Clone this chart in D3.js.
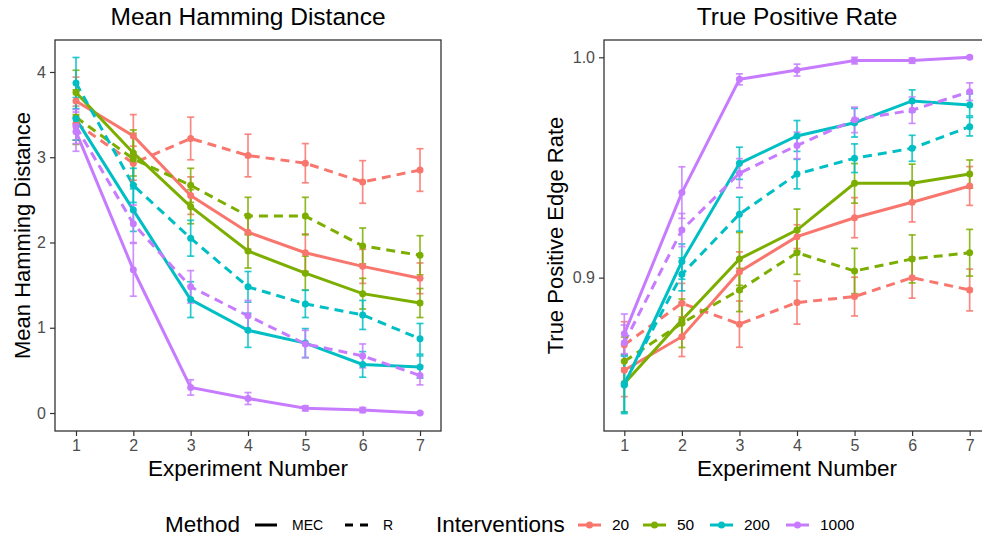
<!DOCTYPE html>
<html>
<head>
<meta charset="utf-8">
<script src="https://cdn.jsdelivr.net/npm/d3@7"></script>
<style>
  body { margin: 0; background: #fff; }
  svg { font-family: "Liberation Sans", Arial, sans-serif; display: block; }
  .tick text { fill: #4d4d4d; font-size: 16px; }
  .tick line { stroke: #333; stroke-width: 1.2; }
  .domain { display: none; }
</style>
</head>
<body>
<svg width="982" height="537"></svg>
<script>
const experiments = [1, 2, 3, 4, 5, 6, 7]
const interventions = ["20", "50", "200", "1000"]
const methods = ["MEC", "R"]
const colors = ["#F8766D", "#7CAE00", "#00BFC4", "#C77CFF"]

// Mean Hamming distance, MEC (solid) / R (dashed), with error half widths
const hamMEC20 = [3.66, 3.25, 2.55, 2.12, 1.88, 1.72, 1.58]
const hamMEC20Err = [0.28, 0.25, 0.22, 0.2, 0.22, 0.2, 0.18]
const hamR20 = [3.40, 2.93, 3.22, 3.02, 2.93, 2.71, 2.85]
const hamR20Err = [0.2, 0.2, 0.25, 0.25, 0.23, 0.25, 0.25]
const hamMEC50 = [3.76, 3.05, 2.42, 1.90, 1.64, 1.40, 1.29]
const hamMEC50Err = [0.26, 0.27, 0.2, 0.2, 0.2, 0.18, 0.17]
const hamR50 = [3.47, 2.98, 2.67, 2.31, 2.31, 1.96, 1.85]
const hamR50Err = [0.32, 0.3, 0.2, 0.22, 0.22, 0.21, 0.23]
const hamMEC200 = [3.45, 2.38, 1.33, 0.97, 0.82, 0.57, 0.54]
const hamMEC200Err = [0.25, 0.25, 0.21, 0.2, 0.17, 0.15, 0.13]
const hamR200 = [3.87, 2.67, 2.05, 1.48, 1.28, 1.15, 0.87]
const hamR200Err = [0.3, 0.2, 0.21, 0.18, 0.16, 0.17, 0.18]
const hamMEC1000 = [3.30, 1.68, 0.30, 0.17, 0.055, 0.035, 0.0]
const hamMEC1000Err = [0.23, 0.31, 0.09, 0.07, 0.03, 0.03, 0.01]
const hamR1000 = [3.36, 2.22, 1.48, 1.14, 0.81, 0.67, 0.44]
const hamR1000Err = [0.2, 0.22, 0.19, 0.18, 0.16, 0.14, 0.11]

// True positive edge rate
const tprMEC20 = [0.858, 0.8732, 0.9027, 0.9186, 0.9272, 0.9342, 0.9416]
const tprMEC20Err = [0.012, 0.009, 0.009, 0.0054, 0.0091, 0.0089, 0.0088]
const tprR20 = [0.8695, 0.8884, 0.8789, 0.8887, 0.8914, 0.900, 0.8944]
const tprR20Err = [0.0105, 0.009, 0.0105, 0.0098, 0.0088, 0.0093, 0.0095]
const tprMEC50 = [0.852, 0.8808, 0.9085, 0.9216, 0.9428, 0.9428, 0.947]
const tprMEC50Err = [0.013, 0.008, 0.012, 0.0095, 0.009, 0.0087, 0.0064]
const tprR50 = [0.862, 0.8793, 0.8944, 0.9113, 0.903, 0.9085, 0.9113]
const tprR50Err = [0.011, 0.011, 0.0098, 0.0098, 0.0103, 0.0109, 0.0106]
const tprMEC200 = [0.8513, 0.9073, 0.9519, 0.9643, 0.9703, 0.9802, 0.9784]
const tprMEC200Err = [0.013, 0.008, 0.0073, 0.007, 0.0065, 0.005, 0.005]
const tprR200 = [0.852, 0.9015, 0.9288, 0.947, 0.9542, 0.9587, 0.9685]
const tprR200Err = [0.013, 0.0075, 0.0077, 0.0067, 0.0065, 0.0059, 0.0042]
const tprMEC1000 = [0.8745, 0.9386, 0.990, 0.9942, 0.9985, 0.9985, 1.0]
const tprMEC1000Err = [0.009, 0.0117, 0.0025, 0.0027, 0.0015, 0.0012, 0.0005]
const tprR1000 = [0.8705, 0.9216, 0.9474, 0.960, 0.9716, 0.976, 0.9844]
const tprR1000Err = [0.008, 0.0075, 0.0066, 0.006, 0.0058, 0.006, 0.004]

const hamTicks = [0, 1, 2, 3, 4]
const tprTicks = [0.9, 1.0]

const hamSeries = [
  [hamMEC20, hamMEC20Err, hamR20, hamR20Err],
  [hamMEC50, hamMEC50Err, hamR50, hamR50Err],
  [hamMEC200, hamMEC200Err, hamR200, hamR200Err],
  [hamMEC1000, hamMEC1000Err, hamR1000, hamR1000Err]
]
const tprSeries = [
  [tprMEC20, tprMEC20Err, tprR20, tprR20Err],
  [tprMEC50, tprMEC50Err, tprR50, tprR50Err],
  [tprMEC200, tprMEC200Err, tprR200, tprR200Err],
  [tprMEC1000, tprMEC1000Err, tprR1000, tprR1000Err]
]

function toGroups(series) {
  const groups = []
  series.forEach((s, ci) => {
    methods.forEach((m, mi) => {
      groups.push({
        color: colors[ci],
        method: m,
        points: experiments.map((e, i) => ({ x: e, y: s[mi*2][i], err: s[mi*2+1][i] }))
      })
    })
  })
  return groups
}

const svg = d3.select("svg")
const plotTop = 40, plotBottom = 431

function panel(opts) {
  const x = d3.scaleLinear().domain(opts.xDomain).range([opts.left, opts.right])
  const y = d3.scaleLinear().domain(opts.yDomain).range([plotBottom, plotTop])
  const g = svg.append("g")

  g.append("rect")
    .attr("x", opts.left)
    .attr("y", plotTop)
    .attr("width", opts.right - opts.left)
    .attr("height", plotBottom - plotTop)
    .attr("fill", "none")
    .attr("stroke", "#333")
    .attr("stroke-width", 1.3)

  g.append("g")
    .attr("transform", `translate(0, ${plotBottom})`)
    .call(d3.axisBottom(x).tickValues(experiments).tickFormat(d3.format("d")).tickSize(5).tickPadding(4))

  g.append("g")
    .attr("transform", `translate(${opts.left}, 0)`)
    .call(d3.axisLeft(y).tickValues(opts.ticks).tickFormat(opts.fmt).tickSize(5).tickPadding(4))

  const groups = toGroups(opts.series)
  const line = d3.line().x(d => x(d.x)).y(d => y(d.y))

  g.selectAll("path.series")
    .data(groups)
    .enter()
    .append("path")
    .attr("class", "series")
    .attr("d", d => line(d.points))
    .attr("fill", "none")
    .attr("stroke", d => d.color)
    .attr("stroke-width", 3)
    .attr("stroke-dasharray", d => d.method == "R" ? "9,6" : null)

  const bars = g.selectAll("g.bars")
    .data(groups)
    .enter()
    .append("g")
    .attr("class", "bars")
    .attr("stroke", d => d.color)
    .attr("stroke-width", 1.7)
    .attr("stroke-opacity", 0.85)

  const bar = bars.selectAll("g")
    .data(d => d.points)
    .enter()
    .append("g")

  bar.append("line")
    .attr("x1", d => x(d.x)).attr("x2", d => x(d.x))
    .attr("y1", d => y(d.y - d.err)).attr("y2", d => y(d.y + d.err))
  bar.append("line")
    .attr("x1", d => x(d.x) - 3.5).attr("x2", d => x(d.x) + 3.5)
    .attr("y1", d => y(d.y - d.err)).attr("y2", d => y(d.y - d.err))
  bar.append("line")
    .attr("x1", d => x(d.x) - 3.5).attr("x2", d => x(d.x) + 3.5)
    .attr("y1", d => y(d.y + d.err)).attr("y2", d => y(d.y + d.err))

  const pts = g.selectAll("g.pts")
    .data(groups)
    .enter()
    .append("g")
    .attr("class", "pts")
    .attr("fill", d => d.color)

  pts.selectAll("circle")
    .data(d => d.points)
    .enter()
    .append("circle")
    .attr("cx", d => x(d.x))
    .attr("cy", d => y(d.y))
    .attr("r", 3.5)

  const cx = (opts.left + opts.right) / 2
  svg.append("text")
    .attr("x", cx).attr("y", 25)
    .attr("text-anchor", "middle")
    .style("font-size", "24.5px")
    .text(opts.title)

  svg.append("text")
    .attr("x", cx).attr("y", 476)
    .attr("text-anchor", "middle")
    .style("font-size", "22.5px")
    .text("Experiment Number")

  svg.append("text")
    .attr("transform", `translate(${opts.yTitleX}, ${(plotTop + plotBottom) / 2}) rotate(-90)`)
    .attr("text-anchor", "middle")
    .style("font-size", "22px")
    .text(opts.yTitle)
}

panel({
  left: 55, right: 441,
  xDomain: [0.634, 7.366], yDomain: [-0.211, 4.375],
  ticks: hamTicks, fmt: d3.format("d"),
  series: hamSeries,
  title: "Mean Hamming Distance",
  yTitle: "Mean Hamming Distance", yTitleX: 30
})

panel({
  left: 604, right: 990,
  xDomain: [0.647, 7.353], yDomain: [0.8304, 1.00785],
  ticks: tprTicks, fmt: d3.format(".1f"),
  series: tprSeries,
  title: "True Positive Rate",
  yTitle: "True Positive Edge Rate", yTitleX: 563
})

// legend
const legY = 525
const leg = svg.append("g")

leg.append("text").attr("x", 165).attr("y", legY + 7).style("font-size", "22.5px").text("Method")
leg.append("line").attr("x1", 255).attr("x2", 277).attr("y1", legY).attr("y2", legY)
  .attr("stroke", "black").attr("stroke-width", 3)
leg.append("text").attr("x", 292).attr("y", legY + 5).style("font-size", "14px").text(methods[0])
leg.append("line").attr("x1", 345).attr("x2", 368).attr("y1", legY).attr("y2", legY)
  .attr("stroke", "black").attr("stroke-width", 3).attr("stroke-dasharray", "8,7")
leg.append("text").attr("x", 383).attr("y", legY + 5).style("font-size", "14px").text(methods[1])

leg.append("text").attr("x", 436).attr("y", legY + 7).style("font-size", "22.5px").text("Interventions")

const keyX = [578, 643, 710, 786]
const keys = leg.selectAll("g.key")
  .data(interventions)
  .enter()
  .append("g")
  .attr("class", "key")
  .attr("transform", (d, i) => `translate(${keyX[i]}, ${legY})`)

keys.append("line").attr("x1", 0).attr("x2", 23).attr("y1", 0).attr("y2", 0)
  .attr("stroke", (d, i) => colors[i]).attr("stroke-width", 3)
keys.append("circle").attr("cx", 11.5).attr("cy", 0).attr("r", 3.5)
  .attr("fill", (d, i) => colors[i])
keys.append("text").attr("x", 34).attr("y", 5).style("font-size", "15.5px").text(d => d)
</script>
</body>
</html>
